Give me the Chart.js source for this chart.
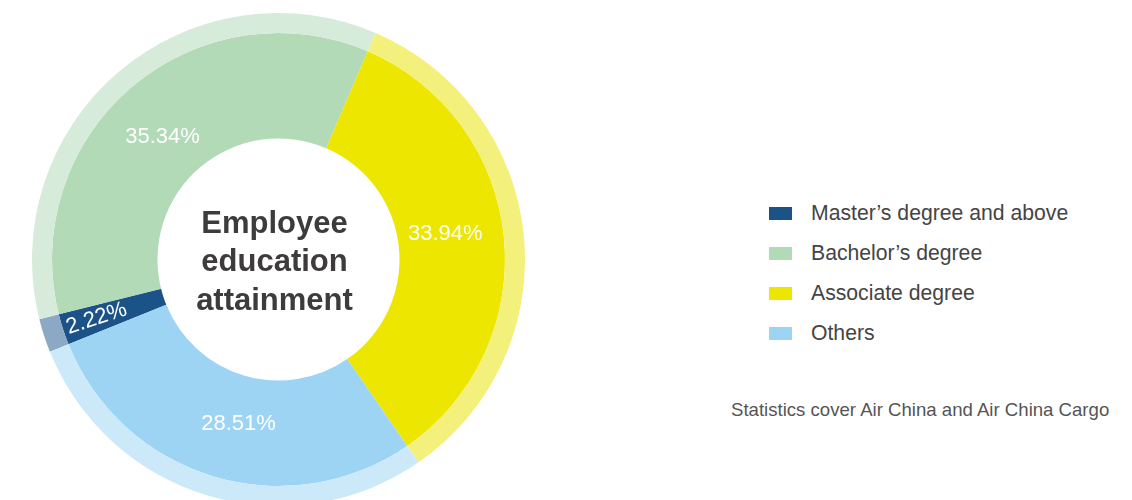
<!DOCTYPE html>
<html>
<head>
<meta charset="utf-8">
<script src="https://cdn.jsdelivr.net/npm/chart.js@4.4.0/dist/chart.umd.min.js"></script>
<style>
    html, body {
        margin: 0;
        padding: 0;
        width: 1132px;
        height: 500px;
        overflow: hidden;
        background: #ffffff;
        font-family: "Liberation Sans", Arial, Helvetica, sans-serif;
    }
    #chartBox {
        position: absolute;
        left: 32px;
        top: 12.5px;
        width: 493px;
        height: 493px;
    }
    #legend {
        position: absolute;
        left: 769px;
        top: 193px;
        margin: 0;
        padding: 0;
        list-style: none;
    }
    #legend li {
        height: 40px;
        display: flex;
        align-items: center;
        font-size: 21.2px;
        color: #444444;
    }
    #legend span.box {
        display: inline-block;
        width: 23px;
        height: 13px;
        margin-right: 19px;
    }
    #note {
        position: absolute;
        left: 731px;
        top: 399px;
        font-size: 18.6px;
        color: #555555;
        white-space: nowrap;
    }
</style>
</head>
<body>
<div id="chartBox"><canvas id="myChart"></canvas></div>
<ul id="legend"></ul>
<div id="note">Statistics cover Air China and Air China Cargo</div>

<script>
const categories = [
    'Master’s degree and above',
    'Bachelor’s degree',
    'Associate degree',
    'Others'
];
const shares = [2.22, 35.34, 33.94, 28.51];
const mainColors = ['#1b5389', '#b2dab7', '#ece600', '#9dd4f4'];
const lightColors = ['#8ba9c4', '#d7ebda', '#f4f07c', '#cce9f9'];
const centerTitle = ['Employee', 'education', 'attainment'];

// percentage labels on the main ring + title in the hole
const sliceLabels = {
    id: 'sliceLabels',
    afterDatasetsDraw(chart) {
        const ctx = chart.ctx;
        const meta = chart.getDatasetMeta(1);
        ctx.save();
        ctx.fillStyle = '#ffffff';
        ctx.font = '22px "Liberation Sans", Arial, sans-serif';
        ctx.textBaseline = 'middle';
        meta.data.forEach(function (arc, i) {
            const p = arc.getProps(['x', 'y', 'startAngle', 'endAngle', 'innerRadius', 'outerRadius'], true);
            const mid = (p.startAngle + p.endAngle) / 2;
            const text = shares[i].toFixed(2) + '%';
            ctx.save();
            if (shares[i] < 5) {
                // thin slice: text runs inward along the radius from the outer edge
                const r = p.outerRadius - 4;
                ctx.translate(p.x + Math.cos(mid) * r, p.y + Math.sin(mid) * r);
                ctx.rotate(mid - Math.PI);
                ctx.textAlign = 'left';
            } else {
                const a = mid - 3 * Math.PI / 180;
                const r = (p.innerRadius + p.outerRadius) / 2 - 5;
                ctx.translate(p.x + Math.cos(a) * r, p.y + Math.sin(a) * r);
                ctx.textAlign = 'center';
            }
            ctx.fillText(text, 0, 0);
            ctx.restore();
        });

        const c = meta.data[0];
        ctx.fillStyle = '#3d3b3b';
        ctx.font = 'bold 31px "Liberation Sans", Arial, sans-serif';
        ctx.textAlign = 'center';
        ctx.textBaseline = 'alphabetic';
        centerTitle.forEach(function (line, i) {
            ctx.fillText(line, c.x - 4, c.y - 27 + i * 38.5);
        });
        ctx.restore();
    }
};

renderLegend();
renderChart();

function renderLegend() {
    const list = document.getElementById('legend');
    categories.forEach(function (name, i) {
        const li = document.createElement('li');
        const box = document.createElement('span');
        box.className = 'box';
        box.style.background = mainColors[i];
        li.appendChild(box);
        li.appendChild(document.createTextNode(name));
        list.appendChild(li);
    });
}

function renderChart() {
    const data = {
        labels: categories,
        datasets: [{
            data: shares,
            backgroundColor: lightColors,
            borderWidth: 0,
            weight: 20
        }, {
            data: shares,
            backgroundColor: mainColors,
            borderWidth: 0,
            weight: 105.5
        }]
    };
    const config = {
        type: 'doughnut',
        data: data,
        options: {
            responsive: true,
            maintainAspectRatio: false,
            animation: false,
            events: [],
            rotation: 248,
            cutout: 121,
            hoverOffset: 0,
            layout: {
                padding: 0
            },
            plugins: {
                legend: {
                    display: false
                },
                tooltip: {
                    enabled: false
                }
            }
        },
        plugins: [sliceLabels]
    };

    new Chart(document.getElementById('myChart'), config);
}
</script>
</body>
</html>
